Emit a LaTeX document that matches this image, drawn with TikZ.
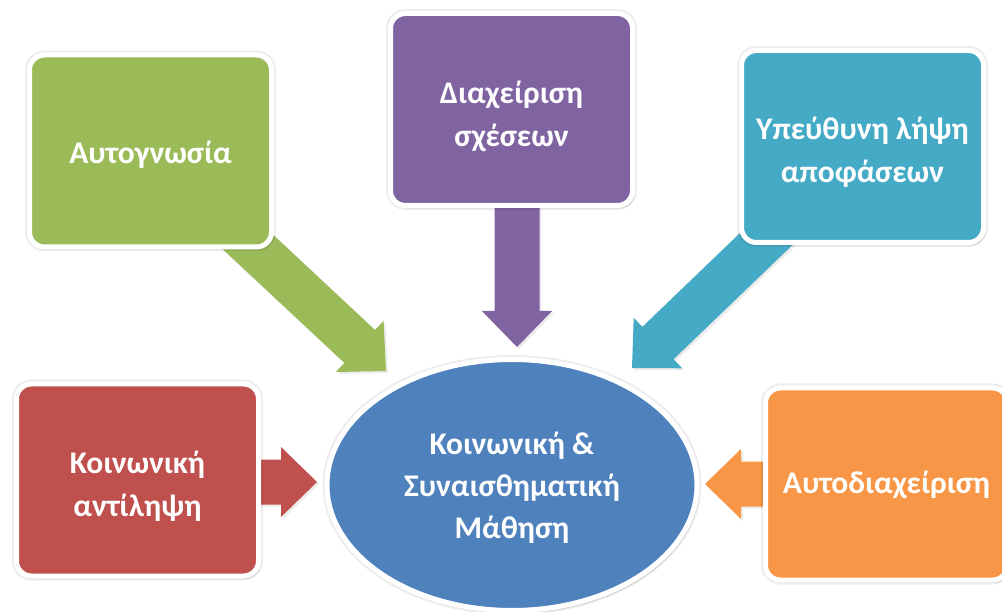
\documentclass[tikz,border=0pt]{standalone}
\usepackage{fontspec}
\setmainfont{Carlito}
\usetikzlibrary{calc,shadows,backgrounds,shapes.geometric}
\definecolor{cgreen}{HTML}{9BBB59}
\definecolor{cpurple}{HTML}{8064A2}
\definecolor{ccyan}{HTML}{45AAC6}
\definecolor{cred}{HTML}{C0504D}
\definecolor{corange}{HTML}{F79646}
\definecolor{cblue}{HTML}{4F81BD}
% #1 start, #2 tip, #3 colour
\newcommand{\blockarrow}[3]{%
  \path ($(#2)!36pt!(#1)$) coordinate (ba-b);
  \fill[#3, arrowshade]
    ($(#1)!22.5pt!90:(#2)$) -- ($(ba-b)!22.5pt!90:(#2)$) --
    ($(ba-b)!35pt!90:(#2)$) -- (#2) --
    ($(ba-b)!35pt!-90:(#2)$) -- ($(ba-b)!22.5pt!-90:(#2)$) --
    ($(#1)!22.5pt!-90:(#2)$) -- cycle;}
% lowered multi-line text block
\newcommand{\lowtext}[2]{\raisebox{-#1}[\height][\depth]{\begin{tabular}{@{}c@{}}#2\end{tabular}}}
\begin{document}
\begin{tikzpicture}[x=1pt,y=-1pt,
  softshadow/.style={drop shadow={opacity=0.2, shadow xshift=2pt, shadow yshift=-3pt},
    preaction={draw=black, draw opacity=0.07, line width=9pt}},
  arrowshade/.style={drop shadow={opacity=0.15, shadow xshift=2pt, shadow yshift=-2pt}},
  box/.style={rectangle, rounded corners=15pt, draw=white, line width=5pt,
    minimum width=242pt, minimum height=192pt, inner sep=0pt,
    text=white, font=\bfseries\fontsize{31.5}{43}\selectfont, softshadow},
  hub/.style={ellipse, draw=white, line width=5pt, minimum width=370pt,
    minimum height=251pt, inner sep=0pt, text=white,
    font=\bfseries\fontsize{31.5}{42}\selectfont, softshadow}]
\useasboundingbox (0,0) rectangle (1002,612);
\clip (0,0) rectangle (1002,612);

\node[box, fill=cgreen]  (green)  at (150.5,151)   {\lowtext{4pt}{Αυτογνωσία}};
\node[box, fill=cpurple] (purple) at (511.5,109.5) {\lowtext{7pt}{Διαχείριση\\σχέσεων}};
\node[box, fill=ccyan]   (cyan)   at (862.5,146.5) {\lowtext{6pt}{Υπεύθυνη λήψη\\αποφάσεων}};
\node[box, fill=cred]    (red)    at (137.5,480)   {\lowtext{6pt}{Κοινωνική\\αντίληψη}};
\node[box, fill=corange] (orange) at (886.5,484)   {\lowtext{1pt}{Αυτοδιαχείριση}};
\node[hub, fill=cblue]   (hub)    at (512,485)     {\lowtext{3pt}{Κοινωνική \&\\Συναισθηματική\\Μάθηση}};

\coordinate (tipG) at (386,371);
\coordinate (tipP) at (517,347);
\coordinate (tipC) at (632,368);
\coordinate (tipR) at (317,482);
\coordinate (tipO) at (705,484);
\coordinate (startP) at (tipP |- purple.center);
\coordinate (startR) at (tipR -| red.center);
\coordinate (startO) at (tipO -| orange.center);

\begin{scope}[on background layer]
  \fill[white] (0,0) rectangle (1002,612);
  \blockarrow{green.center}{tipG}{cgreen}
  \blockarrow{startP}{tipP}{cpurple}
  \blockarrow{cyan.center}{tipC}{ccyan}
  \blockarrow{startR}{tipR}{cred}
  \blockarrow{startO}{tipO}{corange}
\end{scope}
\end{tikzpicture}
\end{document}
